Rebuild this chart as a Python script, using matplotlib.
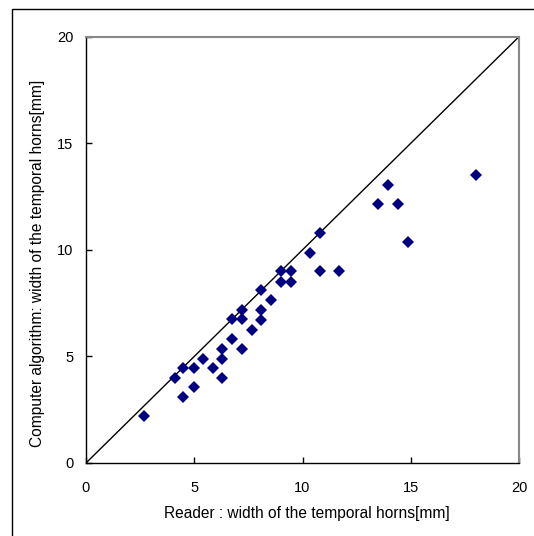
import matplotlib
matplotlib.use('Agg')
import matplotlib.pyplot as plt
from matplotlib.patches import Rectangle

plt.rcParams['font.family'] = ['Liberation Sans', 'DejaVu Sans']

# reader vs computer widths of the temporal horns [mm]
reader = [2.7, 4.1, 4.5, 5.0, 4.5, 5.0, 5.4, 5.85, 6.3, 6.3, 6.3, 6.75, 7.2, 6.75,
          7.2, 7.2, 7.65, 8.1, 8.1, 8.55, 8.1, 10.8, 10.35, 9.0, 9.45, 9.0, 9.45,
          10.8, 11.7, 18.0, 13.95, 13.5, 14.4, 14.85]
computer = [2.2, 4.0, 4.45, 4.45, 3.1, 3.55, 4.9, 4.45, 5.35, 4.9, 4.0, 5.8, 5.35, 6.75,
            6.75, 7.2, 6.25, 6.7, 7.2, 7.65, 8.1, 10.8, 9.85, 9.0, 9.0, 8.5, 8.5,
            9.0, 9.0, 13.5, 13.05, 12.15, 12.15, 10.35]
ticks = [0, 5, 10, 15, 20]

fig = plt.figure(figsize=(5.34, 5.36), dpi=100)
ax = fig.add_axes([86/534, 73/536, 433/534, 426.3/536])

# outer frame (only left and top edges visible)
fig.add_artist(Rectangle((12/534, -0.5), 2.0, 0.5 + (536-9)/536, transform=fig.transFigure,
                         fill=False, edgecolor='black', linewidth=1.0, clip_on=False))

ax.plot([0, 20], [0, 20], color='black', linewidth=1.0, zorder=2)
ax.plot(reader, computer, linestyle='none', marker='D', markersize=6.4,
        color='#000080', markeredgewidth=0, zorder=3)

ax.set_xlim(0, 20)
ax.set_ylim(0, 20)
ax.set_xticks(ticks)
ax.set_yticks(ticks)
ax.tick_params(direction='in', length=4, width=1, labelsize=10.5, color='black')
ax.tick_params(axis='x', pad=13)
ax.tick_params(axis='y', pad=9)

for side in ['left', 'bottom']:
    ax.spines[side].set_color('black')
    ax.spines[side].set_linewidth(1.0)
for side in ['top', 'right']:
    ax.spines[side].set_color('#888888')
    ax.spines[side].set_linewidth(1.5)

ax.set_xlabel('Reader : width of the temporal horns[mm]', fontsize=11.2)
ax.set_ylabel('Computer algorithm: width of the temporal horns[mm]', fontsize=11.2)
ax.xaxis.set_label_coords(0.511, -0.1)
ax.yaxis.set_label_coords(-0.094, 0.468)

fig.savefig('out.png', dpi=100)
